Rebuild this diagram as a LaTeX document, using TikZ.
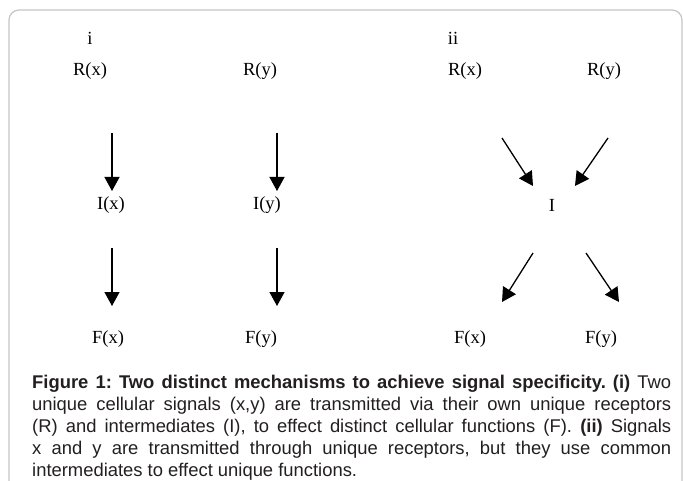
\documentclass[tikz,border=0pt]{standalone}
\usepackage{fontspec}
\setmainfont{Liberation Serif}
\newfontfamily\capfont{Liberation Sans}
\usepackage{tikz}
\usetikzlibrary{
  arrows.meta,
  positioning
}
\frenchspacing
\definecolor{framegray}{RGB}{196,196,196}
\definecolor{captext}{RGB}{35,31,32}
\tikzset{
  x=1pt, y=1pt,
  sig/.style={-{Triangle[width=15pt,length=14pt]}, line width=1.3pt},
  lbl/.style={inner sep=0pt, font=\fontsize{18.5}{22}\selectfont},
  capbox/.style={inner sep=0pt, anchor=north west, text width=639pt, align=justify,
    text=captext, font=\capfont\fontsize{18.4}{22}\selectfont}
}

\begin{document}
\begin{tikzpicture}
    \useasboundingbox (0,0) rectangle (683,-481);
    \draw[framegray, line width=1.2pt, rounded corners=10pt]
      (9,-485) -- (9,-10) -- (682,-10) -- (682,-485);

    % panel i
    \node[lbl] (ti) at (90,-38) {i};
    \node[lbl] (rx1) at (90,-71) {R(x)};
    \node[lbl] (ry1) at (260,-71) {R(y)};
    \node[lbl] (ix1) at (111,-205) {I(x)};
    \node[lbl] (iy1) at (267,-205) {I(y)};
    \node[lbl] (fx1) at (108,-339) {F(x)};
    \node[lbl] (fy1) at (261,-339) {F(y)};
    \draw[sig] ([shift={(22,-62)}]rx1.center) -- ([shift={(1,14)}]ix1.center);
    \draw[sig] ([shift={(17,-62)}]ry1.center) -- ([shift={(10,14)}]iy1.center);
    \draw[sig] ([shift={(1,-43)}]ix1.center) -- ([shift={(4,33)}]fx1.center);
    \draw[sig] ([shift={(10,-43)}]iy1.center) -- ([shift={(16,33)}]fy1.center);

    % panel ii
    \node[lbl] (tii) at (453,-38) {ii};
    \node[lbl] (rx2) at (465,-71) {R(x)};
    \node[lbl] (ry2) at (604,-71) {R(y)};
    \node[lbl] (im) at (552,-205) {I};
    \node[lbl] (fx2) at (470,-339) {F(x)};
    \node[lbl] (fy2) at (601,-339) {F(y)};
    \draw[sig] ([shift={(37,-67)}]rx2.center) -- ([shift={(-19,19)}]im.center);
    \draw[sig] ([shift={(4,-67)}]ry2.center) -- ([shift={(23,19)}]im.center);
    \draw[sig] ([shift={(-19,-48)}]im.center) -- ([shift={(32,37)}]fx2.center);
    \draw[sig] ([shift={(34,-48)}]im.center) -- ([shift={(18,37)}]fy2.center);

    % caption
    \node[capbox] (cap) at (32,-375) {\textbf{Figure 1: Two distinct mechanisms to
      achieve signal specificity. (i)} Two\linebreak unique cellular signals (x,y) are
      transmitted via their own unique receptors\linebreak (R) and intermediates (I),
      to effect distinct cellular functions (F). \textbf{(ii)} Signals\linebreak x and
      y are transmitted through unique receptors, but they use common\linebreak
      intermediates to effect unique functions.};
\end{tikzpicture}
\end{document}
